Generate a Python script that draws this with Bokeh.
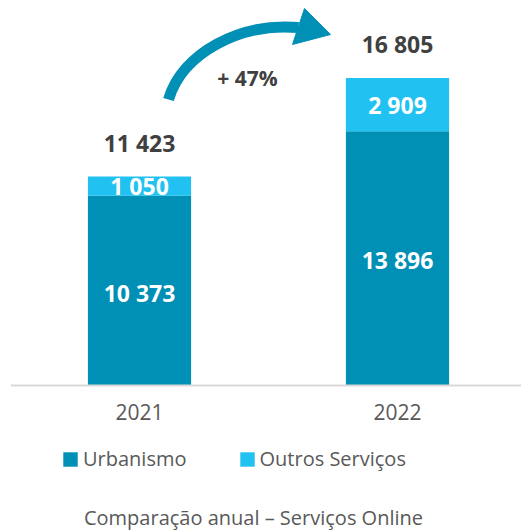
from bokeh.plotting import figure
from bokeh.models import Range1d, FixedTicker, Legend, LegendItem, Label, ColumnDataSource
from bokeh.core.properties import value
from bokeh.embed import file_html
from bokeh.resources import INLINE

# ---- data ----
years = ["2021", "2022"]
urbanismo = [10373, 13896]
outros = [1050, 2909]
series_names = ["Urbanismo", "Outros Serviços"]
chart_title = "Comparação anual – Serviços Online"

totals = [u + o for u, o in zip(urbanismo, outros)]
growth = round((totals[1] / totals[0] - 1) * 100)

def fmt(v):
    return f"{v:,}".replace(",", " ")

# ---- style ----
DARK = "#008FB5"
LIGHT = "#21C2F1"
TXT = "#404040"
GREY = "#595959"
FONT = "Open Sans"

W, H = 521, 531
BASE = 385                 # pixel row of the value axis zero line
PX = 209 / 11423           # px per unit
xs = [i + 0.5 for i in range(len(years))]

# geometry helpers for the decorative arrow (pixel -> data)
def dx(px):
    return (px - 10) / 258
def dy(py):
    return (BASE - py) / PX

p = figure(width=W, height=H, output_backend="svg", toolbar_location=None,
           x_range=Range1d(0, (W - 10) / 258),
           y_range=Range1d(-(H - BASE) / PX, BASE / PX),
           y_axis_location=None, title_location=None,
           min_border_left=10, min_border_right=0, min_border_top=0, min_border_bottom=0)
p.outline_line_color = None
p.grid.visible = False
p.background_fill_color = "white"
p.border_fill_color = "white"

src = ColumnDataSource(dict(x=xs, u=urbanismo, t=totals,
                            u_lab=[fmt(v) for v in urbanismo],
                            o_lab=[fmt(v) for v in outros],
                            t_lab=[fmt(v) for v in totals],
                            u_mid=[u / 2 for u in urbanismo],
                            o_mid=[u + o / 2 for u, o in zip(urbanismo, outros)]))

r_u = p.vbar(x="x", bottom=0, top="u", width=0.4, source=src, fill_color=DARK, line_color=None)
r_o = p.vbar(x="x", bottom="u", top="t", width=0.4, source=src, fill_color=LIGHT, line_color=None)

p.text(x="x", y="u_mid", text="u_lab", source=src, text_color="white",
       text_font=value(FONT), text_font_style="bold", text_font_size="23px",
       text_align="center", text_baseline="middle", y_offset=2)
p.text(x="x", y="o_mid", text="o_lab", source=src, text_color="white",
       text_font=value(FONT), text_font_style="bold", text_font_size="23px",
       text_align="center", text_baseline="middle")
p.text(x="x", y="t", text="t_lab", source=src, text_color=TXT,
       text_font=value(FONT), text_font_style="bold", text_font_size="23px",
       text_align="center", text_baseline="middle", y_offset=-34)

# growth arrow
p.bezier(x0=[dx(168)], y0=[dy(99)], x1=[dx(298)], y1=[dy(27)],
         cx0=[dx(182)], cy0=[dy(52)], cx1=[dx(240)], cy1=[dy(22)],
         line_color=DARK, line_width=11)
p.patch([dx(304), dx(330), dx(292)], [dy(8), dy(34), dy(44)], color=DARK)
p.text(x=[dx(247)], y=[dy(77)], text=[f"+ {growth}%"], text_color=TXT,
       text_font=value(FONT), text_font_style="bold", text_font_size="21px",
       text_align="center", text_baseline="middle")

# x axis drawn on the zero line
ax = p.xaxis[0]
ax.fixed_location = 0
ax.ticker = FixedTicker(ticks=xs)
ax.major_label_overrides = {x: y for x, y in zip(xs, years)}
ax.axis_line_color = "#D9D9D9"
ax.axis_line_width = 2
ax.major_tick_line_color = None
ax.minor_tick_line_color = None
ax.major_tick_out = 0
ax.major_label_standoff = 18
ax.major_label_text_font = FONT
ax.major_label_text_font_size = "21px"
ax.major_label_text_color = GREY

legend = Legend(items=[LegendItem(label=series_names[0], renderers=[r_u]),
                       LegendItem(label=series_names[1], renderers=[r_o])],
                orientation="horizontal", location=(51, 59),
                glyph_width=18, glyph_height=18, label_standoff=4, spacing=51,
                padding=0, margin=0, border_line_color=None, background_fill_alpha=0,
                label_text_font=FONT, label_text_font_size="20px", label_text_color=GREY)
p.add_layout(legend, "center")

p.add_layout(Label(x=243, y=H - 517, x_units="screen", y_units="screen", text=chart_title,
                   text_align="center", text_baseline="middle", text_font=FONT,
                   text_font_size="20px", text_color=GREY))

open("out.html", "w").write(file_html(p, INLINE))
